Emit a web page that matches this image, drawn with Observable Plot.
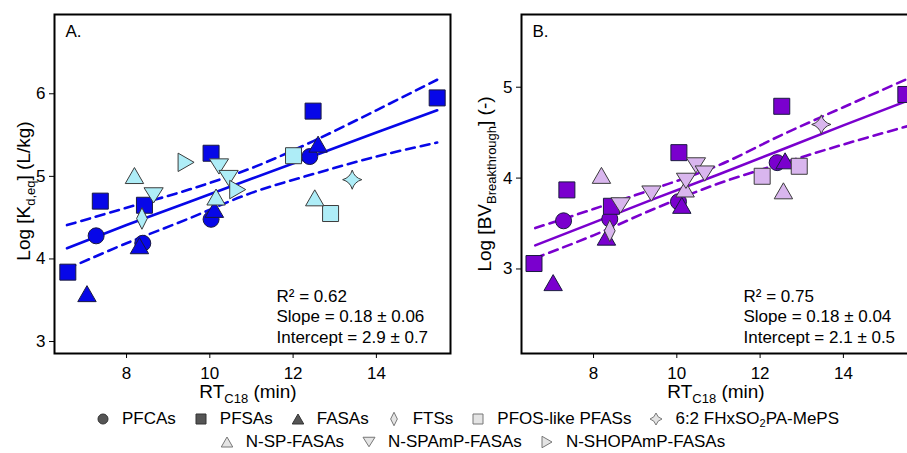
<!DOCTYPE html>
<html><head><meta charset="utf-8">
<script src="https://cdn.jsdelivr.net/npm/d3@7"></script>
<script src="https://cdn.jsdelivr.net/npm/@observablehq/plot@0.6"></script>
<style>
body{margin:0;background:#fff;font-family:"Liberation Sans",Arial,sans-serif;}
#wrap{width:907px;height:453px;overflow:hidden;position:relative;}
#panels{display:flex;width:930px;position:absolute;left:0;top:0;}
#panels svg{overflow:visible;flex:none;}
.row{position:absolute;left:0;width:907px;height:22px;display:flex;justify-content:center;align-items:center;font-size:17px;color:#000;white-space:nowrap;}
.item{display:inline-flex;align-items:center;margin:0 9px;}
.item svg{width:14px;height:14px;margin-right:12px;flex:none;}
sub{font-size:11px;vertical-align:-3px;line-height:0;}
</style></head><body>
<div id="wrap"><div id="panels"></div>
<div class="row" id="row1" style="top:408px;padding-left:28px;box-sizing:border-box;"></div>
<div class="row" id="row2" style="top:431px;padding-left:38px;box-sizing:border-box;"></div>
</div>
<script>
// ---------- data ----------
const groups = ["PFCAs","PFSAs","FASAs","FTSs","PFOS-like PFASs","6:2 FHxSO2PA-MePS","N-SP-FASAs","N-SPAmP-FASAs","N-SHOPAmP-FASAs"];
const darkGroups = ["PFCAs","PFSAs","FASAs"];

// Panel A: RT_C18 (min) vs Log Kd,eq (L/kg)
const A_group = ["PFCAs","PFCAs","PFCAs","PFCAs",
  "PFSAs","PFSAs","PFSAs","PFSAs","PFSAs","PFSAs",
  "FASAs","FASAs","FASAs","FASAs",
  "FTSs","PFOS-like PFASs","PFOS-like PFASs","6:2 FHxSO2PA-MePS",
  "N-SP-FASAs","N-SP-FASAs","N-SP-FASAs",
  "N-SPAmP-FASAs","N-SPAmP-FASAs","N-SPAmP-FASAs",
  "N-SHOPAmP-FASAs","N-SHOPAmP-FASAs"];
const A_rt = [7.27,8.39,10.03,12.40, 6.59,7.37,8.43,10.03,12.48,15.46, 7.05,8.31,10.11,12.60,
  8.37,12.01,12.90,13.42, 8.19,10.15,12.52, 8.65,10.22,10.45, 9.43,10.67];
const A_logKd = [4.28,4.19,4.48,5.24, 3.84,4.70,4.65,5.28,5.79,5.95, 3.58,4.16,4.60,5.39,
  4.49,5.25,4.55,4.96, 5.01,4.75,4.74, 4.77,5.12,4.98, 5.17,4.84];
const A_fitRT = [6.57,8,9.5,11,12.5,14,15.46];
const A_fit   = [4.13,4.41,4.69,4.97,5.25,5.53,5.80];
const A_upper = [4.41,4.62,4.84,5.10,5.43,5.80,6.17];
const A_lower = [3.88,4.19,4.49,4.80,5.03,5.24,5.41];
const A_stats = "R² = 0.62\nSlope = 0.18 ± 0.06\nIntercept = 2.9 ± 0.7";

// Panel B: RT_C18 (min) vs Log BV_Breakthrough (-)
const B_group = ["PFCAs","PFCAs","PFCAs","PFCAs",
  "PFSAs","PFSAs","PFSAs","PFSAs","PFSAs","PFSAs",
  "FASAs","FASAs","FASAs","FASAs",
  "FTSs","PFOS-like PFASs","PFOS-like PFASs","6:2 FHxSO2PA-MePS",
  "N-SP-FASAs","N-SP-FASAs","N-SP-FASAs",
  "N-SPAmP-FASAs","N-SPAmP-FASAs","N-SPAmP-FASAs","N-SPAmP-FASAs","N-SPAmP-FASAs"];
const B_rt = [7.28,8.39,10.04,12.41, 6.57,7.36,8.43,10.05,12.52,15.50, 7.03,8.31,10.12,12.60,
  8.39,12.05,12.94,13.47, 8.19,10.20,12.56, 8.65,9.39,10.22,10.46,10.67];
const B_logBV = [3.53,3.55,3.74,4.17, 3.06,3.87,3.69,4.28,4.79,4.92, 2.85,3.35,3.70,4.19,
  3.42,4.02,4.13,4.59, 4.03,3.88,3.86, 3.70,3.83,3.97,4.14,4.05];
const B_fitRT = [6.6,8,9.5,11,12.5,14,15.53];
const B_fit   = [3.26,3.51,3.78,4.04,4.31,4.58,4.85];
const B_upper = [3.45,3.66,3.89,4.14,4.47,4.78,5.09];
const B_lower = [3.12,3.37,3.67,3.94,4.16,4.37,4.57];
const B_stats = "R² = 0.75\nSlope = 0.18 ± 0.04\nIntercept = 2.1 ± 0.5";

const xTicks = [8,10,12,14];

// ---------- symbols ----------
const rad = s => Math.sqrt(s/Math.PI);
const symbols = {
  "PFCAs": {draw(c,s){const r=rad(s); c.moveTo(r,0); c.arc(0,0,r,0,2*Math.PI); c.closePath();}},
  "PFSAs": {draw(c,s){const r=rad(s); c.moveTo(-r,-r); c.lineTo(r,-r); c.lineTo(r,r); c.lineTo(-r,r); c.closePath();}},
  "FASAs": {draw(c,s){const r=rad(s); c.moveTo(0,-r); c.lineTo(1.15*r,r); c.lineTo(-1.15*r,r); c.closePath();}},
  "FTSs": {draw(c,s){const r=rad(s); c.moveTo(0,-1.35*r); c.lineTo(0.67*r,0); c.lineTo(0,1.35*r); c.lineTo(-0.67*r,0); c.closePath();}},
  "PFOS-like PFASs": {draw(c,s){const r=rad(s); c.moveTo(-r,-r); c.lineTo(r,-r); c.lineTo(r,r); c.lineTo(-r,r); c.closePath();}},
  "6:2 FHxSO2PA-MePS": {draw(c,s){const R=1.2*rad(s), k=0.22*R; c.moveTo(0,-R); c.quadraticCurveTo(k,-k,R,0); c.quadraticCurveTo(k,k,0,R); c.quadraticCurveTo(-k,k,-R,0); c.quadraticCurveTo(-k,-k,0,-R); c.closePath();}},
  "N-SP-FASAs": {draw(c,s){const r=rad(s); c.moveTo(0,-r); c.lineTo(1.15*r,r); c.lineTo(-1.15*r,r); c.closePath();}},
  "N-SPAmP-FASAs": {draw(c,s){const r=rad(s); c.moveTo(-1.2*r,-0.95*r); c.lineTo(1.2*r,-0.95*r); c.lineTo(0,0.95*r); c.closePath();}},
  "N-SHOPAmP-FASAs": {draw(c,s){const r=rad(s); c.moveTo(-r,-1.15*r); c.lineTo(r,0); c.lineTo(-r,1.15*r); c.closePath();}}
};

// ---------- panels ----------
function panel({rt, val, grp, fitRT, fit, upper, lower, dark, light, yDomain, yTicks, letter, stats, marginLeft, width}) {
  const pts = rt.map((x,i)=>({x, y: val[i], g: grp[i]}));
  const fr = fitRT.map((x,i)=>({x, fit: fit[i], up: upper[i], lo: lower[i]}));
  const marks = [
    Plot.line(fr, {x:"x", y:"up", stroke:dark, strokeWidth:2.6, strokeDasharray:"9,6", curve:"catmull-rom"}),
    Plot.line(fr, {x:"x", y:"lo", stroke:dark, strokeWidth:2.6, strokeDasharray:"9,6", curve:"catmull-rom"}),
    Plot.line(fr, {x:"x", y:"fit", stroke:dark, strokeWidth:2.6}),
    ...groups.map(g => Plot.dot(pts.filter(d=>d.g===g), {x:"x", y:"y", r:8, symbol:symbols[g],
      fill: darkGroups.includes(g) ? dark : light,
      stroke: darkGroups.includes(g) ? "#1a1a40" : "#3c3c3c", strokeWidth:1})),
    Plot.frame({stroke:"#000", strokeWidth:2}),
    Plot.axisX({ticks:xTicks, tickFormat:"d", tickSize:5, tickPadding:8, fontSize:17, label:null}),
    Plot.axisY({ticks:yTicks, tickFormat:"d", tickSize:5, tickPadding:4, fontSize:17, label:null}),
    Plot.text([letter], {text:d=>d, frameAnchor:"top-left", dx:11, dy:10, fontSize:17}),
    Plot.text([stats], {text:d=>d, frameAnchor:"bottom-left", dx:222, dy:-11, fontSize:17, lineHeight:1.18})
  ];
  return Plot.plot({
    width, height:405, marginLeft, marginRight: width - marginLeft - 396, marginTop:14, marginBottom:52,
    x:{domain:[6.27,15.78]}, y:{domain:yDomain},
    style:{fontFamily:"'Liberation Sans', Arial, sans-serif", fontSize:"17px", color:"#000", background:"transparent"},
    marks
  });
}

function addLabel(svg, x, y, rot, parts) {
  const t = d3.select(svg).append("text")
    .attr("transform", `translate(${x},${y}) rotate(${rot})`)
    .attr("text-anchor","middle").attr("font-size",19).attr("fill","#000")
    .attr("font-family","'Liberation Sans', Arial, sans-serif");
  let prevSub = false;
  for (const [s, sub] of parts) {
    const ts = t.append("tspan").text(s);
    if (sub) { ts.attr("font-size",13).attr("dy",5); prevSub = true; }
    else if (prevSub) { ts.attr("dy",-5); prevSub = false; }
  }
}

const svgA = panel({rt:A_rt, val:A_logKd, grp:A_group, fitRT:A_fitRT, fit:A_fit, upper:A_upper, lower:A_lower,
  dark:"#0707E8", light:"#AEEDF7", yDomain:[2.855,6.96], yTicks:[3,4,5,6], letter:"A.", stats:A_stats,
  marginLeft:54, width:460});
const svgB = panel({rt:B_rt, val:B_logBV, grp:B_group, fitRT:B_fitRT, fit:B_fit, upper:B_upper, lower:B_lower,
  dark:"#7A00CE", light:"#D9B6EE", yDomain:[2.07,5.80], yTicks:[3,4,5], letter:"B.", stats:B_stats,
  marginLeft:61, width:457});

addLabel(svgA, 30, 191, -90, [["Log [K"],["d,eq",true],["] (L/kg)"]]);
addLabel(svgA, 248, 398, 0, [["RT"],["C18",true],[" (min)"]]);
addLabel(svgB, 31, 184, -90, [["Log [BV"],["Breakthrough",true],["] (-)"]]);
addLabel(svgB, 256, 398, 0, [["RT"],["C18",true],[" (min)"]]);

document.getElementById("panels").append(svgA, svgB);

// ---------- legend ----------
const legendRows = [["PFCAs","PFSAs","FASAs","FTSs","PFOS-like PFASs","6:2 FHxSO2PA-MePS"],
                    ["N-SP-FASAs","N-SPAmP-FASAs","N-SHOPAmP-FASAs"]];
const legendText = {"6:2 FHxSO2PA-MePS":"6:2 FHxSO<sub>2</sub>PA-MePS"};
legendRows.forEach((row, ri) => {
  const el = document.getElementById("row"+(ri+1));
  for (const g of row) {
    const item = document.createElement("span"); item.className = "item";
    const p = d3.path(); symbols[g].draw(p, Math.PI*5*5);
    const dk = darkGroups.includes(g);
    item.innerHTML = `<svg viewBox="-7 -7 14 14"><path d="${p}" fill="${dk?"#555":"#e4e4e4"}" stroke="${dk?"#333":"#777"}" stroke-width="1"/></svg><span>${legendText[g]||g}</span>`;
    el.append(item);
  }
});
</script>
</body></html>
